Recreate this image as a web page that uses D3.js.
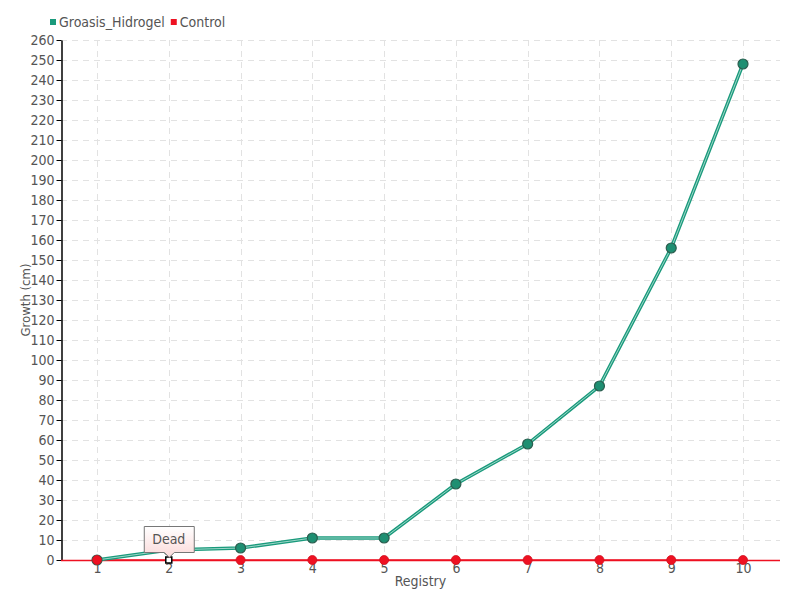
<!DOCTYPE html>
<html><head><meta charset="utf-8">
<script src="https://cdn.jsdelivr.net/npm/d3@7"></script>
<style>
body{margin:0;background:#fff;}
text{font-family:"DejaVu Sans Condensed","Liberation Sans Narrow",sans-serif;}
</style></head>
<body><svg id="c" width="800" height="600"></svg>
<script>
const categories = ["1","2","3","4","5","6","7","8","9","10"];
const groasis = [0, 5, 6, 11, 11, 38, 58, 87, 156, 248];
const control = [0, 0, 0, 0, 0, 0, 0, 0, 0, 0];
const seriesNames = ["Groasis_Hidrogel", "Control"];
const yTicks = d3.range(0, 261, 10);
const annotationText = "Dead";
const annotationIndex = 1;

const svg = d3.select("#c");
const m = {l:61, r:20, t:40, b:40};
const W = 800, H = 600;
const x = d3.scalePoint().domain(categories).range([m.l+36, W-m.r-1-36]);
const y = d3.scaleLinear().domain([0,260]).range([H-m.b, m.t]);
const green = "#1a9a7c", red = "#ee1122";

const defs = svg.append("defs");
const g1 = defs.append("linearGradient").attr("id","tip").attr("x1",0).attr("y1",0).attr("x2",0).attr("y2",1);
g1.append("stop").attr("offset","0%").attr("stop-color","#ffffff");
g1.append("stop").attr("offset","100%").attr("stop-color","#fbd9d9");

// grid
svg.append("g").selectAll("line").data(yTicks.slice(1)).join("line")
  .attr("x1", m.l).attr("x2", W-m.r).attr("y1", d=>y(d)+0.5).attr("y2", d=>y(d)+0.5)
  .attr("stroke","#e2e2e2").attr("stroke-dasharray","6,5");
svg.append("g").selectAll("line").data(categories).join("line")
  .attr("x1", d=>Math.round(x(d))+0.5).attr("x2", d=>Math.round(x(d))+0.5).attr("y1", m.t).attr("y2", H-m.b)
  .attr("stroke","#e2e2e2").attr("stroke-dasharray","6,5");

// axes
const tf = "#555";
const ya = svg.append("g").attr("transform",`translate(${m.l+0.5},0)`)
  .call(d3.axisLeft(y).tickValues(yTicks).tickSize(5).tickSizeOuter(0));
ya.select(".domain").attr("stroke","#000").attr("stroke-width",1.5);
ya.selectAll(".tick line").attr("stroke","#000");
ya.selectAll("text").attr("fill",tf).attr("font-size",14).attr("x",-7);

const xa = svg.append("g").attr("transform",`translate(0,${H-m.b+0.5})`)
  .call(d3.axisBottom(x).tickSize(0).tickSizeOuter(0));
xa.select(".domain").attr("stroke",red).attr("stroke-width",1.5).attr("d",`M${m.l},0H${W-m.r}`);
xa.selectAll("text").attr("fill",tf).attr("font-size",14).attr("y",3).attr("dy","0.71em");

// axis titles
svg.append("text").attr("x",(m.l+W-m.r)/2).attr("y",586).attr("text-anchor","middle")
  .attr("fill",tf).attr("font-size",14).text("Registry");
svg.append("text").attr("transform",`translate(30,${(m.t+H-m.b)/2}) rotate(-90)`).attr("text-anchor","middle")
  .attr("fill",tf).attr("font-size",13).text("Growth (cm)");

// lines
const line = d3.line().x((d,i)=>x(categories[i])).y(d=>y(d));
svg.append("path").datum(control).attr("d",line)
  .attr("fill","none").attr("stroke",red).attr("stroke-width",1.5);
svg.append("path").datum(groasis).attr("d",line).attr("fill","none").attr("stroke",green).attr("stroke-width",3.5);
svg.append("path").datum(groasis).attr("d",line).attr("fill","none").attr("stroke","#bfe6dc").attr("stroke-width",0.8);

// markers
svg.append("g").selectAll("circle").data(groasis).join("circle")
  .attr("cx",(d,i)=>x(categories[i])).attr("cy",d=>y(d)).attr("r",5)
  .attr("fill","#1e8f72").attr("stroke","#2b5e4f").attr("stroke-width",1.2);
svg.append("g").selectAll("circle").data(control).join("circle")
  .attr("cx",(d,i)=>x(categories[i])).attr("cy",d=>y(d)).attr("r",4.5)
  .attr("fill",red).attr("stroke","#d01020").attr("stroke-width",0.8)
  .attr("opacity",(d,i)=>i===annotationIndex?0:1);
// highlighted point
const hx = x(categories[annotationIndex]), hy = y(control[annotationIndex]);
svg.append("rect").attr("x",hx-3).attr("y",hy-3).attr("width",6).attr("height",6)
  .attr("fill","#fff").attr("stroke","#000").attr("stroke-width",1.5);

// tooltip
const tw=50, th=26, tx=hx-25, ty=hy-34;
svg.append("path")
  .attr("d",`M${tx+0.5},${ty+0.5}h${tw}v${th}h${-(tw/2-5)}l-5,5l-5,-5h${-(tw/2-5)}z`)
  .attr("fill","url(#tip)").attr("stroke","#777").attr("stroke-width",1);
svg.append("text").attr("x",hx).attr("y",ty+18).attr("text-anchor","middle")
  .attr("fill","#555").attr("font-size",14).text(annotationText);

// legend
const lg = svg.append("g");
const colors=[green,red];
let lx = 50;
seriesNames.forEach((n,i)=>{
  lg.append("rect").attr("x",lx).attr("y",19).attr("width",6).attr("height",6).attr("fill",colors[i]);
  const t = lg.append("text").attr("x",lx+9).attr("y",27).attr("fill","#555").attr("font-size",14).text(n);
  lx += t.node().getComputedTextLength()+15;
});
</script></body></html>
